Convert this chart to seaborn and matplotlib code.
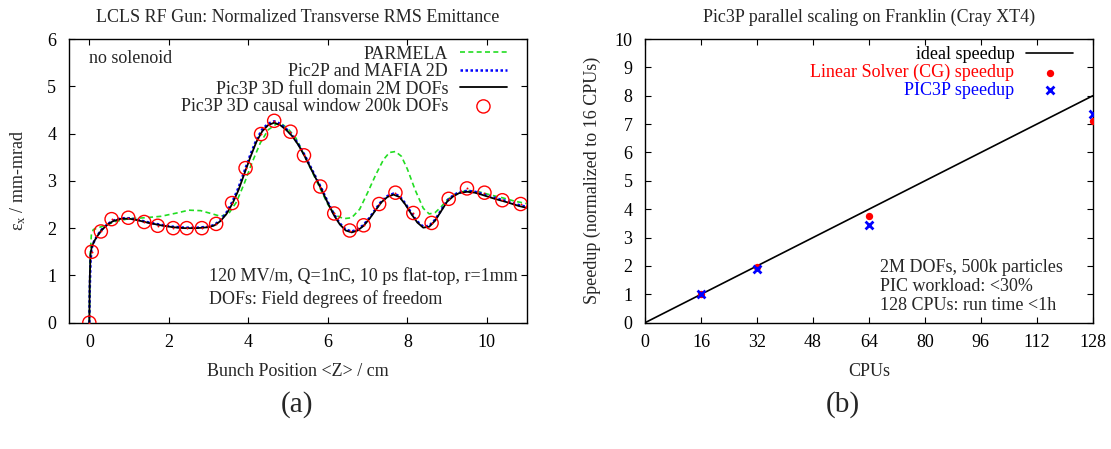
import numpy as np
import matplotlib
matplotlib.use("Agg")
import matplotlib.pyplot as plt
import seaborn as sns

# ---- panel (a): emittance along the gun ----
z_full = [0.0, 0.01, 0.03, 0.06, 0.12, 0.2, 0.3, 0.45, 0.6, 0.8, 1.0, 1.2, 1.5, 1.8, 2.1, 2.4, 2.7, 3.0,
          3.15, 3.3, 3.45, 3.6, 3.75, 3.9, 4.05, 4.2, 4.35, 4.5, 4.65, 4.8, 4.95, 5.1, 5.25, 5.4, 5.55,
          5.7, 5.85, 6.0, 6.15, 6.3, 6.45, 6.6, 6.75, 6.9, 7.05, 7.2, 7.35, 7.5, 7.65, 7.8, 7.95, 8.1,
          8.25, 8.4, 8.55, 8.7, 8.85, 9.0, 9.15, 9.3, 9.5, 9.7, 9.9, 10.2, 10.5, 10.8, 11.0]
emit_full = [0.0, 0.9, 1.45, 1.6, 1.72, 1.83, 1.95, 2.07, 2.15, 2.2, 2.2, 2.17, 2.11, 2.06, 2.02, 2.0, 2.0, 2.02,
             2.06, 2.15, 2.3, 2.52, 2.8, 3.15, 3.5, 3.82, 4.05, 4.18, 4.23, 4.18, 4.08, 3.95, 3.77, 3.55, 3.3,
             3.05, 2.8, 2.53, 2.28, 2.08, 1.95, 1.91, 1.95, 2.05, 2.2, 2.38, 2.55, 2.66, 2.71, 2.66, 2.5, 2.3,
             2.12, 2.01, 2.03, 2.16, 2.36, 2.56, 2.67, 2.74, 2.77, 2.75, 2.7, 2.62, 2.55, 2.47, 2.43]
emit_2d = [0.0, 0.7, 1.3, 1.58, 1.72, 1.84, 1.96, 2.08, 2.16, 2.21, 2.21, 2.18, 2.12, 2.07, 2.03, 2.01, 2.01, 2.03,
           2.07, 2.17, 2.33, 2.56, 2.85, 3.2, 3.55, 3.86, 4.09, 4.21, 4.26, 4.21, 4.1, 3.97, 3.79, 3.57, 3.32,
           3.07, 2.82, 2.55, 2.3, 2.1, 1.97, 1.93, 1.97, 2.07, 2.22, 2.4, 2.57, 2.68, 2.73, 2.68, 2.52, 2.32,
           2.14, 2.03, 2.05, 2.18, 2.38, 2.58, 2.69, 2.76, 2.79, 2.77, 2.72, 2.64, 2.57, 2.49, 2.45]

z_parm = [0.0, 0.02, 0.05, 0.1, 0.2, 0.4, 0.7, 1.0, 1.4, 1.8, 2.2, 2.5, 2.8, 3.1, 3.3, 3.5, 3.7, 3.9, 4.1,
          4.3, 4.5, 4.7, 4.85, 5.0, 5.2, 5.4, 5.6, 5.8, 6.0, 6.2, 6.4, 6.6, 6.8, 7.0, 7.2, 7.4, 7.55, 7.7,
          7.85, 8.0, 8.2, 8.4, 8.55, 8.7, 8.85, 9.0, 9.2, 9.5, 9.8, 10.1, 10.4, 10.7, 11.0]
emit_parm = [0.0, 1.4, 1.85, 1.97, 2.0, 2.06, 2.15, 2.2, 2.22, 2.25, 2.32, 2.38, 2.37, 2.3, 2.25, 2.3, 2.55,
             2.95, 3.4, 3.8, 4.08, 4.2, 4.2, 4.1, 3.9, 3.55, 3.2, 2.85, 2.5, 2.27, 2.2, 2.22, 2.4, 2.75,
             3.12, 3.45, 3.6, 3.62, 3.52, 3.25, 2.8, 2.42, 2.3, 2.33, 2.45, 2.6, 2.72, 2.8, 2.77, 2.7,
             2.64, 2.57, 2.52]

z_causal = [0.0, 0.06, 0.29, 0.56, 0.98, 1.38, 1.72, 2.11, 2.45, 2.83, 3.19, 3.59, 3.93, 4.32, 4.65,
            5.06, 5.40, 5.81, 6.16, 6.55, 6.90, 7.29, 7.70, 8.15, 8.61, 9.04, 9.50, 9.94, 10.39, 10.85]
emit_causal = [0.0, 1.50, 1.93, 2.19, 2.22, 2.13, 2.05, 2.00, 2.00, 2.00, 2.09, 2.53, 3.27, 3.99, 4.27,
               4.04, 3.54, 2.88, 2.31, 1.95, 2.06, 2.51, 2.75, 2.32, 2.11, 2.62, 2.84, 2.75, 2.59, 2.51]

# ---- panel (b): parallel scaling ----
cpus_ideal = [0, 128]
speedup_ideal = [0, 8]
cpus = [16, 32, 64, 128]
speedup_cg = [1.02, 1.96, 3.76, 7.11]
speedup_pic3p = [1.0, 1.89, 3.44, 7.35]

sns.set_style("ticks")
plt.rcParams['font.family'] = ['Liberation Serif', 'DejaVu Serif']
plt.rcParams['mathtext.fontset'] = 'custom'
plt.rcParams['mathtext.rm'] = 'Liberation Serif'
plt.rcParams['mathtext.it'] = 'Liberation Serif:italic'
plt.rcParams['font.size'] = 13

fig = plt.figure(figsize=(11.11, 4.49), dpi=100)
ax1 = fig.add_axes([0.0618, 0.2813, 0.4122, 0.6318])
ax2 = fig.add_axes([0.5806, 0.2813, 0.4030, 0.6318])

for ax in (ax1, ax2):
    ax.tick_params(direction='in', top=True, right=True, length=4.5, width=0.8,
                   labelsize=13, colors='black')
    ax.tick_params(axis='y', pad=9)
    ax.tick_params(axis='x', pad=8)
    for s in ax.spines.values():
        s.set_linewidth(1.0)
        s.set_color('black')

# (a)
sns.lineplot(x=z_parm, y=emit_parm, ax=ax1, color='#22dd22', lw=1.2,
             label='PARMELA', sort=False).lines[-1].set_dashes((3, 2))
sns.lineplot(x=z_full, y=emit_2d, ax=ax1, color='#0000ff', lw=1.8,
             label='Pic2P and MAFIA 2D', sort=False).lines[-1].set_dashes((1, 1))
sns.lineplot(x=z_full, y=emit_full, ax=ax1, color='black', lw=1.3,
             label='Pic3P 3D full domain 2M DOFs', sort=False)
sns.scatterplot(x=z_causal, y=emit_causal, ax=ax1, marker='o', s=90, facecolor='none',
                edgecolor='red', linewidth=1.0, label='Pic3P 3D causal window 200k DOFs', zorder=5)
sns.scatterplot(x=z_causal, y=emit_causal, ax=ax1, marker='o', s=2, color='red',
                linewidth=0, zorder=5, legend=False)

ax1.set_xlim(-0.52, 11.0)
ax1.set_ylim(0, 6)
ax1.set_xticks([0, 2, 4, 6, 8, 10])
ax1.set_yticks([0, 1, 2, 3, 4, 5, 6])
ax1.set_title('LCLS RF Gun: Normalized Transverse RMS Emittance', fontsize=13, pad=12)
ax1.set_xlabel('Bunch Position <Z> / cm', fontsize=13, labelpad=9)
ax1.set_ylabel('ε$_\\mathrm{x}$ / mm-mrad', fontsize=13, labelpad=14)

h, l = ax1.get_legend_handles_labels()
ax1.legend(h[:4], l[:4], loc='upper right', bbox_to_anchor=(0.957, 0.977), markerfirst=False,
           frameon=False, borderpad=0, borderaxespad=0, handlelength=2.6, handletextpad=0.65,
           labelspacing=0.03, fontsize=13)
ax1.text(0.044, 0.932, 'no solenoid', transform=ax1.transAxes, ha='left', va='center', fontsize=13)
ax1.text(0.307, 0.166, '120 MV/m, Q=1nC, 10 ps flat-top, r=1mm', transform=ax1.transAxes,
         ha='left', va='center', fontsize=13)
ax1.text(0.307, 0.0835, 'DOFs: Field degrees of freedom', transform=ax1.transAxes,
         ha='left', va='center', fontsize=13)

# (b)
sns.lineplot(x=cpus_ideal, y=speedup_ideal, ax=ax2, color='black', lw=1.2, label='ideal speedup')
sns.scatterplot(x=cpus, y=speedup_cg, ax=ax2, marker='o', s=28, color='red', linewidth=0,
                label='Linear Solver (CG) speedup', zorder=5)
sns.scatterplot(x=cpus, y=speedup_pic3p, ax=ax2, marker='x', s=32, color='blue', linewidth=2.0,
                label='PIC3P speedup', zorder=6)
ax2.set_xlim(0, 128)
ax2.set_ylim(0, 10)
ax2.set_xticks(list(range(0, 129, 16)))
ax2.set_yticks(list(range(0, 11)))
ax2.set_title('Pic3P parallel scaling on Franklin (Cray XT4)', fontsize=13, pad=12)
ax2.set_xlabel('CPUs', fontsize=13, labelpad=9)
ax2.set_ylabel('Speedup (normalized to 16 CPUs)', fontsize=13, labelpad=10)

leg2 = ax2.legend(loc='upper right', bbox_to_anchor=(0.956, 0.975), markerfirst=False,
                  frameon=False, borderpad=0, borderaxespad=0, handlelength=2.6, handletextpad=0.65,
                  labelspacing=0.05, fontsize=13)
for t, c in zip(leg2.get_texts(), ['black', 'red', 'blue']):
    t.set_color(c)
ax2.text(0.525, 0.196, '2M DOFs, 500k particles', transform=ax2.transAxes, ha='left', va='center', fontsize=13)
ax2.text(0.525, 0.126, 'PIC workload: <30%', transform=ax2.transAxes, ha='left', va='center', fontsize=13)
ax2.text(0.525, 0.059, '128 CPUs: run time <1h', transform=ax2.transAxes, ha='left', va='center', fontsize=13)

fig.text(0.2675, 0.1, '(a)', ha='center', va='center', fontsize=21)
fig.text(0.7585, 0.1, '(b)', ha='center', va='center', fontsize=21)

fig.savefig('out.png', dpi=100)
